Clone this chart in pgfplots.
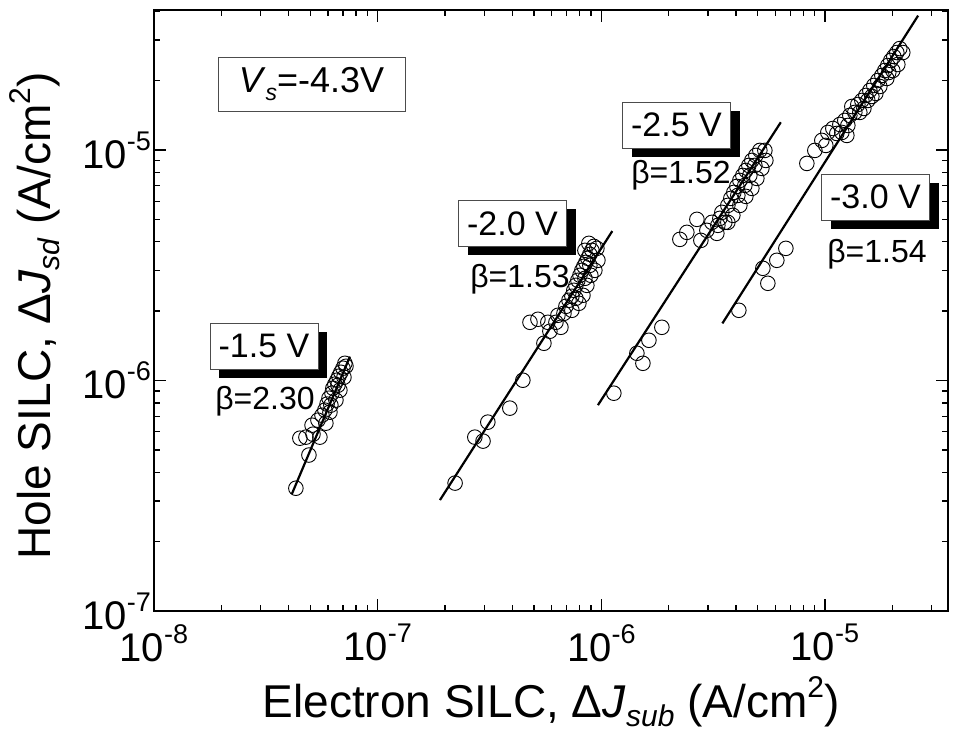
\documentclass[border=0pt]{standalone}
\usepackage{fontspec}
\setmainfont{Liberation Sans}
\usepackage{pgfplots}
\pgfplotsset{compat=1.18}
\usetikzlibrary{shadows}

% raised / lowered small text for exponents and indices
\newcommand\tsup[1]{\raisebox{18pt}{\fontsize{27}{27}\selectfont #1}}
\newcommand\lsup[1]{\raisebox{20pt}{\fontsize{30}{30}\selectfont #1}}
\newcommand\lsub[1]{\raisebox{-9pt}{\fontsize{30}{30}\selectfont #1}}
\newcommand\bsub[1]{\raisebox{-8pt}{\fontsize{23}{23}\selectfont #1}}

\tikzset{
  vbox/.style={draw=black!70, line width=0.8pt, fill=white,
    minimum width=108pt, minimum height=46pt, inner sep=0pt,
    font=\fontsize{34}{36}\selectfont,
    drop shadow={shadow xshift=9pt, shadow yshift=-9pt, opacity=1, fill=black}},
  beta/.style={font=\fontsize{32}{34}\selectfont, inner sep=0pt},
  fitline/.style={line width=2.2pt, black, no marks},
  pts/.style={only marks, mark=o, mark size=7.3pt, black,
    mark options={line width=0.9pt, fill=none}},
}

\begin{document}
\begin{tikzpicture}
\begin{axis}[
  at={(0pt,0pt)}, anchor=south west, scale only axis,
  width=794pt, height=601pt,
  xmode=log, ymode=log,
  xmin=1e-8, xmax=3.55e-5, ymin=1e-7, ymax=4.05e-5,
  axis line style={line width=2pt},
  tick align=inside, tick pos=both,
  major tick length=12pt, minor tick length=6pt,
  every tick/.style={line width=1.3pt, black},
  xtick={1e-8,1e-7,1e-6,1e-5},
  xticklabels={10\tsup{-8},10\tsup{-7},10\tsup{-6},10\tsup{-5}},
  ytick={1e-7,1e-6,1e-5},
  yticklabels={10\tsup{-7},10\tsup{-6},10\tsup{-5}},
  minor xtick={2e-8,3e-8,4e-8,5e-8,6e-8,7e-8,8e-8,9e-8,
               2e-7,3e-7,4e-7,5e-7,6e-7,7e-7,8e-7,9e-7,
               2e-6,3e-6,4e-6,5e-6,6e-6,7e-6,8e-6,9e-6,2e-5,3e-5},
  minor ytick={2e-7,3e-7,4e-7,5e-7,6e-7,7e-7,8e-7,9e-7,
               2e-6,3e-6,4e-6,5e-6,6e-6,7e-6,8e-6,9e-6,2e-5,3e-5,4e-5},
  ticklabel style={font=\fontsize{40}{44}\selectfont, inner sep=2pt},
  xticklabel style={yshift=-11pt},
  yticklabel style={xshift=-1pt},
]
% -1.5 V
\addplot[fitline] coordinates {(4.13e-8,3.21e-7) (7.52e-8,1.27e-6)};
\addplot[pts] table {
x y
4.31e-8 3.41e-7
4.49e-8 5.62e-7
4.78e-8 5.68e-7
5.14e-8 5.85e-7
5.52e-8 5.68e-7
4.93e-8 4.75e-7
5.09e-8 6.40e-7
5.41e-8 6.73e-7
5.64e-8 7.07e-7
5.81e-8 7.44e-7
5.94e-8 7.90e-7
6.06e-8 8.38e-7
6.25e-8 8.81e-7
6.31e-8 9.26e-7
6.44e-8 9.64e-7
6.58e-8 1.003e-6
6.71e-8 1.044e-6
6.85e-8 1.086e-6
7.00e-8 1.131e-6
7.14e-8 1.188e-6
7.07e-8 1.033e-6
6.78e-8 9.08e-7
6.51e-8 8.22e-7
6.12e-8 7.29e-7
5.87e-8 6.53e-7
6.18e-8 7.82e-7
6.65e-8 9.54e-7
7.22e-8 1.153e-6
};
% -2.0 V
\addplot[fitline] coordinates {(1.90e-7,3.03e-7) (1.12e-6,4.45e-6)};
\addplot[pts] table {
x y
2.22e-7 3.59e-7
2.72e-7 5.68e-7
2.96e-7 5.46e-7
3.11e-7 6.60e-7
3.90e-7 7.59e-7
4.46e-7 1.003e-6
5.54e-7 1.451e-6
4.80e-7 1.789e-6
5.21e-7 1.844e-6
5.89e-7 1.636e-6
6.27e-7 1.789e-6
6.60e-7 1.702e-6
5.77e-7 1.789e-6
6.40e-7 1.919e-6
6.81e-7 1.957e-6
6.95e-7 2.099e-6
7.17e-7 2.229e-6
7.39e-7 2.320e-6
7.54e-7 2.463e-6
7.70e-7 2.588e-6
7.86e-7 2.721e-6
8.03e-7 2.861e-6
8.19e-7 3.007e-6
8.36e-7 3.130e-6
8.54e-7 3.257e-6
8.71e-7 3.389e-6
8.89e-7 3.528e-6
9.08e-7 3.671e-6
9.27e-7 3.820e-6
9.56e-7 3.745e-6
9.66e-7 3.323e-6
9.36e-7 3.007e-6
8.98e-7 2.861e-6
8.62e-7 2.588e-6
8.28e-7 2.343e-6
7.94e-7 2.163e-6
7.39e-7 2.017e-6
8.89e-7 3.161e-6
8.45e-7 2.776e-6
7.70e-7 2.274e-6
8.45e-7 3.671e-6
8.80e-7 3.937e-6
};
% -2.5 V
\addplot[fitline] coordinates {(9.66e-7,7.82e-7) (6.35e-6,1.32e-5)};
\addplot[pts] table {
x y
1.138e-6 8.81e-7
1.443e-6 1.313e-6
1.535e-6 1.188e-6
1.633e-6 1.495e-6
1.866e-6 1.702e-6
2.246e-6 4.097e-6
2.413e-6 4.394e-6
2.676e-6 5.003e-6
2.788e-6 4.056e-6
2.966e-6 4.482e-6
3.287e-6 4.350e-6
3.122e-6 4.856e-6
3.390e-6 5.053e-6
3.569e-6 4.856e-6
3.460e-6 5.365e-6
3.681e-6 5.752e-6
3.796e-6 6.169e-6
3.915e-6 6.549e-6
4.038e-6 6.954e-6
4.165e-6 7.382e-6
4.295e-6 7.760e-6
4.430e-6 8.157e-6
4.569e-6 8.575e-6
4.712e-6 9.013e-6
4.910e-6 9.476e-6
5.117e-6 9.961e-6
5.388e-6 9.961e-6
5.444e-6 9.013e-6
5.224e-6 8.321e-6
4.961e-6 7.531e-6
4.712e-6 6.817e-6
4.430e-6 6.293e-6
4.165e-6 5.752e-6
3.875e-6 5.207e-6
3.681e-6 4.856e-6
4.385e-6 7.024e-6
4.616e-6 7.760e-6
4.079e-6 6.356e-6
4.860e-6 8.575e-6
3.321e-6 4.712e-6
};
% -3.0 V
\addplot[fitline] coordinates {(3.48e-6,1.77e-6) (2.61e-5,3.83e-5)};
\addplot[pts] table {
x y
4.122e-6 2.017e-6
5.278e-6 3.068e-6
5.556e-6 2.641e-6
6.095e-6 3.323e-6
6.689e-6 3.745e-6
8.302e-6 8.748e-6
9.013e-6 9.961e-6
9.685e-6 1.101e-5
1.030e-5 1.192e-5
1.130e-5 1.180e-5
1.253e-5 1.157e-5
1.085e-5 1.240e-5
1.166e-5 1.291e-5
1.227e-5 1.344e-5
1.292e-5 1.413e-5
1.360e-5 1.456e-5
1.319e-5 1.545e-5
1.403e-5 1.576e-5
1.462e-5 1.641e-5
1.432e-5 1.456e-5
1.524e-5 1.725e-5
1.588e-5 1.813e-5
1.555e-5 1.641e-5
1.654e-5 1.906e-5
1.689e-5 1.760e-5
1.724e-5 2.003e-5
1.797e-5 2.106e-5
1.760e-5 1.887e-5
1.853e-5 2.213e-5
1.910e-5 2.326e-5
1.891e-5 2.044e-5
1.970e-5 2.446e-5
2.032e-5 2.545e-5
2.011e-5 2.213e-5
2.096e-5 2.649e-5
2.161e-5 2.756e-5
2.229e-5 2.649e-5
2.118e-5 2.350e-5
1.930e-5 2.170e-5
1.621e-5 1.708e-5
1.493e-5 1.515e-5
1.266e-5 1.278e-5
1.190e-5 1.192e-5
1.009e-5 1.047e-5
};
\end{axis}

% bias labels with slopes
\node[vbox] at (110pt,265pt) {-1.5 V};
\node[beta] at (111pt,210pt) {β=2.30};
\node[vbox] at (358.5pt,387.5pt) {-2.0 V};
\node[beta] at (366pt,332pt) {β=1.53};
\node[vbox] at (522.5pt,486pt) {-2.5 V};
\node[beta] at (527pt,436pt) {β=1.52};
\node[vbox] at (721.5pt,414pt) {-3.0 V};
\node[beta] at (723pt,357pt) {β=1.54};

% stress voltage
\node[draw=black!70, line width=0.8pt, fill=white, minimum width=187pt,
      minimum height=54pt, inner sep=0pt, font=\fontsize{36}{38}\selectfont]
  at (157.5pt,527pt) {\textit{V}\bsub{\textit{s}}=-4.3V};

% axis titles
\node[anchor=base, font=\fontsize{46}{50}\selectfont, inner sep=0pt]
  at (397pt,-106pt)
  {Electron SILC, Δ\textit{J}\lsub{\textit{sub}} (A/cm\lsup{2})};
\node[anchor=base, rotate=90, font=\fontsize{46}{50}\selectfont, inner sep=0pt]
  at (-103pt,295pt)
  {Hole SILC, Δ\textit{J}\lsub{\textit{sd}} (A/cm\lsup{2})};

\pgfresetboundingbox
\path[use as bounding box] (-154pt,-125pt) rectangle (799pt,611pt);
\end{tikzpicture}
\end{document}
